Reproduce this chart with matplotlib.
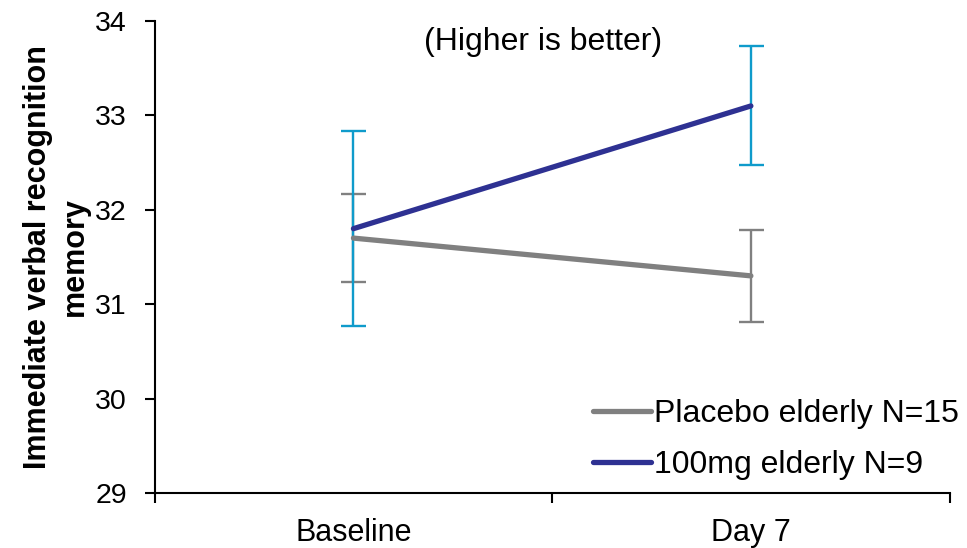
import matplotlib.pyplot as plt
from matplotlib.ticker import FixedLocator, NullFormatter

plt.rcParams['font.family'] = ['Liberation Sans', 'DejaVu Sans']

timepoints = ["Baseline", "Day 7"]
placebo_mean = [31.7, 31.3]
placebo_err = [0.47, 0.49]
drug_mean = [31.8, 33.1]
drug_err = [1.03, 0.63]

fig = plt.figure(figsize=(9.67, 5.48), dpi=100)
ax = fig.add_axes([0.160, 0.1004, 0.822, 0.8613])

x = list(range(len(timepoints)))

ax.errorbar(x, placebo_mean, yerr=placebo_err, fmt='none', ecolor='#808080',
            elinewidth=1.7, capsize=9, capthick=1.7, zorder=2)
ax.errorbar(x, drug_mean, yerr=drug_err, fmt='none', ecolor='#0F9BCB',
            elinewidth=1.7, capsize=9, capthick=1.7, zorder=3)
ax.plot(x, placebo_mean, color='#808080', linewidth=3.8,
        solid_capstyle='round', label='Placebo elderly N=15', zorder=4)
ax.plot(x, drug_mean, color='#2E3192', linewidth=3.8,
        solid_capstyle='round', label='100mg elderly N=9', zorder=5)

ax.set_xlim(-0.5, 1.5)
ax.set_ylim(29, 34)
ax.set_yticks([29, 30, 31, 32, 33, 34])

ax.xaxis.set_major_locator(FixedLocator([-0.5, 0.5, 1.5]))
ax.xaxis.set_major_formatter(NullFormatter())
ax.xaxis.set_minor_locator(FixedLocator(x))
ax.set_xticklabels(timepoints, minor=True)
ax.tick_params(axis='x', which='major', direction='out', length=7, width=1.5)
ax.tick_params(axis='x', which='minor', length=0, pad=18, labelsize=22)
ax.tick_params(axis='y', direction='out', length=7, width=1.5, labelsize=20.5, pad=13)

for s in ['top', 'right']:
    ax.spines[s].set_visible(False)
for s in ['left', 'bottom']:
    ax.spines[s].set_linewidth(1.5)

ax.set_ylabel("Immediate verbal recognition\nmemory", fontsize=22,
              fontweight='bold', linespacing=1.3, labelpad=4)

ax.text(0.488, 0.955, "(Higher is better)", transform=ax.transAxes,
        ha='center', va='center', fontsize=23)

ax.legend(loc='lower right', bbox_to_anchor=(1.048, -0.033), frameon=False,
          fontsize=23, handlelength=1.8, handletextpad=0.1,
          labelspacing=0.64)

plt.savefig("out.png", dpi=100)
plt.close(fig)
